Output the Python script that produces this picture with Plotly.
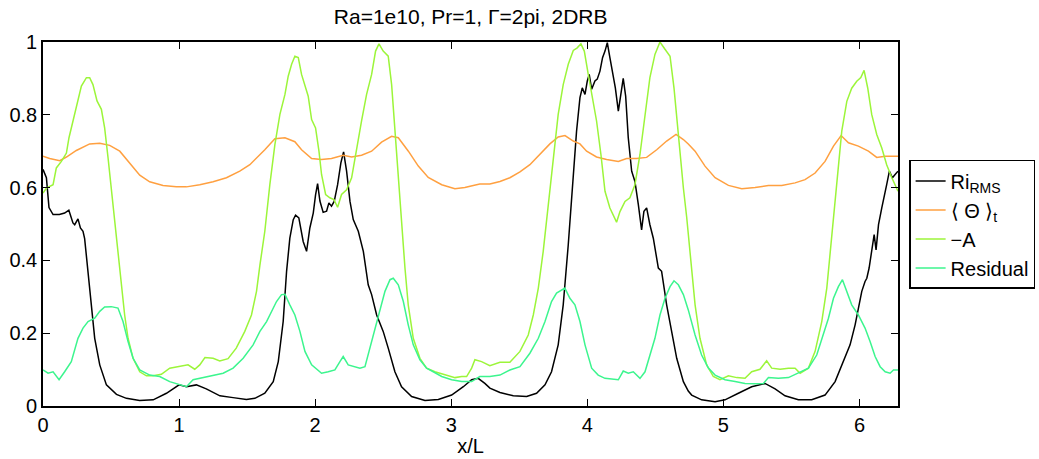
import plotly.graph_objects as go

# ---- data ----
ri_x = [0.0, 0.005, 0.025, 0.044, 0.074, 0.12, 0.159, 0.19, 0.22, 0.233, 0.257, 0.275, 0.294, 0.306, 0.331, 0.355,
        0.38, 0.417, 0.466, 0.54, 0.613, 0.71, 0.81, 0.907, 1.0, 1.054, 1.127, 1.2, 1.3, 1.397, 1.495, 1.557,
        1.63, 1.692, 1.729, 1.765, 1.79, 1.814, 1.839, 1.856, 1.88, 1.912, 1.937, 1.961, 1.986, 2.003, 2.018,
        2.035, 2.059, 2.084, 2.101, 2.12, 2.14, 2.165, 2.189, 2.209, 2.231, 2.256, 2.28, 2.317, 2.354, 2.39,
        2.415, 2.452, 2.5, 2.537, 2.586, 2.635, 2.709, 2.807, 2.905, 3.003, 3.089, 3.15, 3.198, 3.247, 3.284,
        3.358, 3.456, 3.554, 3.627, 3.689, 3.737, 3.786, 3.823, 3.86, 3.897, 3.921, 3.946, 3.963, 3.983, 4.0,
        4.014, 4.032, 4.056, 4.073, 4.093, 4.112, 4.13, 4.147, 4.166, 4.186, 4.206, 4.228, 4.245, 4.264, 4.282,
        4.301, 4.326, 4.35, 4.375, 4.399, 4.416, 4.436, 4.46, 4.485, 4.522, 4.546, 4.583, 4.62, 4.657, 4.706,
        4.742, 4.767, 4.84, 4.939, 5.012, 5.11, 5.208, 5.306, 5.38, 5.453, 5.551, 5.649, 5.747, 5.821, 5.882,
        5.931, 5.968, 5.992, 6.017, 6.041, 6.054, 6.071, 6.09, 6.108, 6.122, 6.14, 6.164, 6.181, 6.2, 6.22,
        6.242, 6.262, 6.283]
ri_y = [0.65, 0.645, 0.627, 0.545, 0.526, 0.526, 0.53, 0.538, 0.503, 0.498, 0.514, 0.489, 0.48, 0.46, 0.37, 0.278,
        0.186, 0.113, 0.058, 0.032, 0.021, 0.015, 0.017, 0.035, 0.058, 0.053, 0.058, 0.047, 0.028, 0.023, 0.018, 0.021,
        0.035, 0.067, 0.122, 0.232, 0.37, 0.461, 0.512, 0.524, 0.517, 0.452, 0.425, 0.489, 0.53, 0.58, 0.611,
        0.563, 0.532, 0.535, 0.558, 0.549, 0.562, 0.608, 0.668, 0.698, 0.645, 0.562, 0.512, 0.48, 0.425, 0.333,
        0.306, 0.25, 0.205, 0.159, 0.094, 0.053, 0.026, 0.015, 0.018, 0.03, 0.053, 0.072, 0.076, 0.062, 0.049,
        0.037, 0.028, 0.026, 0.035, 0.058, 0.094, 0.168, 0.278, 0.443, 0.627, 0.755, 0.847, 0.874, 0.856, 0.893,
        0.911, 0.87, 0.893, 0.898, 0.92, 0.957, 0.975, 0.998, 0.957, 0.911, 0.874, 0.81, 0.847, 0.9, 0.851,
        0.737, 0.645, 0.617, 0.553, 0.484, 0.535, 0.544, 0.498, 0.461, 0.379, 0.37, 0.278, 0.205, 0.131, 0.067,
        0.041, 0.03, 0.017, 0.012, 0.017, 0.035, 0.053, 0.062, 0.047, 0.028, 0.017, 0.017, 0.03, 0.067, 0.122,
        0.168, 0.223, 0.268, 0.315, 0.342, 0.351, 0.379, 0.425, 0.471, 0.429, 0.498, 0.544, 0.571, 0.608, 0.645,
        0.627, 0.636, 0.645]

theta_x = [0.0, 0.049, 0.123, 0.172, 0.245, 0.343, 0.417, 0.49, 0.564, 0.637, 0.711, 0.784, 0.882, 0.98, 1.054,
           1.152, 1.25, 1.348, 1.446, 1.52, 1.58, 1.63, 1.704, 1.778, 1.851, 1.9, 1.974, 2.047, 2.12, 2.206,
           2.268, 2.341, 2.415, 2.488, 2.562, 2.611, 2.685, 2.758, 2.831, 2.93, 3.027, 3.1, 3.162, 3.21, 3.284,
           3.358, 3.431, 3.505, 3.578, 3.652, 3.725, 3.786, 3.836, 3.897, 3.946, 3.995, 4.068, 4.142, 4.228,
           4.289, 4.362, 4.436, 4.51, 4.583, 4.652, 4.706, 4.742, 4.792, 4.865, 4.939, 5.037, 5.135, 5.233,
           5.331, 5.429, 5.527, 5.6, 5.674, 5.747, 5.809, 5.865, 5.919, 5.992, 6.066, 6.127, 6.189, 6.283]
theta_y = [0.686, 0.68, 0.674, 0.684, 0.702, 0.72, 0.722, 0.716, 0.7, 0.668, 0.634, 0.616, 0.606, 0.602, 0.602,
           0.608, 0.616, 0.627, 0.645, 0.663, 0.684, 0.704, 0.734, 0.737, 0.726, 0.704, 0.68, 0.677, 0.68, 0.689,
           0.684, 0.689, 0.7, 0.725, 0.741, 0.737, 0.7, 0.659, 0.628, 0.608, 0.597, 0.6, 0.606, 0.61, 0.61,
           0.617, 0.627, 0.643, 0.663, 0.691, 0.72, 0.739, 0.743, 0.728, 0.72, 0.7, 0.684, 0.677, 0.672,
           0.68, 0.68, 0.683, 0.704, 0.728, 0.746, 0.732, 0.72, 0.7, 0.659, 0.627, 0.606, 0.597, 0.6,
           0.606, 0.606, 0.613, 0.622, 0.64, 0.672, 0.714, 0.743, 0.723, 0.714, 0.7, 0.683, 0.686, 0.686]

a_x = [0.0, 0.025, 0.074, 0.098, 0.135, 0.172, 0.191, 0.221, 0.245, 0.282, 0.319, 0.343, 0.367, 0.397, 0.429,
       0.453, 0.478, 0.502, 0.527, 0.551, 0.576, 0.6, 0.625, 0.662, 0.711, 0.76, 0.809, 0.87, 0.931, 1.005,
       1.066, 1.115, 1.152, 1.19, 1.25, 1.299, 1.36, 1.42, 1.483, 1.532, 1.569, 1.594, 1.63, 1.667, 1.704,
       1.741, 1.778, 1.802, 1.827, 1.851, 1.876, 1.9, 1.925, 1.949, 1.974, 2.003, 2.028, 2.047, 2.077, 2.108,
       2.138, 2.165, 2.194, 2.231, 2.268, 2.305, 2.341, 2.378, 2.415, 2.444, 2.469, 2.5, 2.537, 2.562, 2.586,
       2.611, 2.635, 2.66, 2.684, 2.721, 2.77, 2.819, 2.88, 2.954, 3.028, 3.077, 3.113, 3.15, 3.174, 3.223,
       3.284, 3.358, 3.431, 3.505, 3.566, 3.603, 3.64, 3.676, 3.713, 3.75, 3.786, 3.823, 3.86, 3.897, 3.926,
       3.953, 3.978, 4.007, 4.032, 4.068, 4.1, 4.13, 4.166, 4.198, 4.215, 4.24, 4.277, 4.313, 4.35, 4.387,
       4.424, 4.46, 4.497, 4.534, 4.571, 4.608, 4.637, 4.669, 4.706, 4.730, 4.755, 4.792, 4.828, 4.877, 4.926,
       4.975, 5.037, 5.098, 5.159, 5.208, 5.269, 5.318, 5.355, 5.417, 5.478, 5.527, 5.564, 5.625, 5.674,
       5.723, 5.76, 5.796, 5.833, 5.87, 5.907, 5.943, 5.98, 6.01, 6.034, 6.061, 6.09, 6.127, 6.164, 6.2,
       6.238, 6.283]
a_y = [0.585, 0.599, 0.608, 0.654, 0.672, 0.695, 0.737, 0.783, 0.828, 0.879, 0.902, 0.902, 0.883, 0.838, 0.815,
       0.764, 0.682, 0.599, 0.517, 0.425, 0.333, 0.25, 0.186, 0.131, 0.094, 0.083, 0.083, 0.087, 0.104, 0.11,
       0.113, 0.101, 0.113, 0.133, 0.131, 0.124, 0.13, 0.159, 0.205, 0.25, 0.315, 0.387, 0.48, 0.608, 0.718,
       0.801, 0.856, 0.906, 0.939, 0.961, 0.957, 0.911, 0.883, 0.851, 0.787, 0.764, 0.7, 0.636, 0.581, 0.572,
       0.567, 0.546, 0.581, 0.594, 0.627, 0.709, 0.783, 0.856, 0.911, 0.975, 0.995, 0.975, 0.961, 0.883, 0.755,
       0.627, 0.498, 0.379, 0.278, 0.186, 0.131, 0.104, 0.094, 0.085, 0.078, 0.081, 0.081, 0.104, 0.127, 0.122,
       0.111, 0.12, 0.12, 0.15, 0.195, 0.25, 0.324, 0.425, 0.553, 0.691, 0.801, 0.883, 0.939, 0.977, 0.984,
       0.995, 0.975, 0.911, 0.856, 0.783, 0.691, 0.59, 0.544, 0.517, 0.505, 0.534, 0.562, 0.572, 0.608, 0.691,
       0.792, 0.902, 0.966, 1.0, 0.98, 0.961, 0.874, 0.737, 0.599, 0.52, 0.416, 0.278, 0.186, 0.113, 0.081,
       0.072, 0.083, 0.078, 0.076, 0.094, 0.101, 0.124, 0.104, 0.101, 0.104, 0.104, 0.09, 0.104, 0.15,
       0.232, 0.324, 0.461, 0.617, 0.755, 0.837, 0.873, 0.892, 0.902, 0.922, 0.873, 0.801, 0.746, 0.709, 0.663,
       0.627, 0.59]

res_x = [0.0, 0.037, 0.074, 0.118, 0.159, 0.208, 0.257, 0.294, 0.331, 0.38, 0.417, 0.453, 0.502, 0.551, 0.588,
         0.625, 0.662, 0.711, 0.784, 0.858, 0.931, 1.005, 1.054, 1.103, 1.176, 1.25, 1.324, 1.397, 1.471, 1.544,
         1.594, 1.643, 1.68, 1.716, 1.753, 1.778, 1.814, 1.851, 1.888, 1.925, 1.974, 2.023, 2.047, 2.096, 2.145,
         2.182, 2.206, 2.243, 2.292, 2.329, 2.366, 2.403, 2.44, 2.476, 2.513, 2.55, 2.574, 2.611, 2.648, 2.684,
         2.721, 2.77, 2.819, 2.868, 2.93, 3.003, 3.077, 3.15, 3.21, 3.284, 3.358, 3.431, 3.505, 3.578, 3.64,
         3.689, 3.737, 3.774, 3.811, 3.835, 3.872, 3.909, 3.946, 3.983, 4.032, 4.08, 4.13, 4.179, 4.228, 4.264,
         4.301, 4.338, 4.387, 4.424, 4.46, 4.497, 4.534, 4.571, 4.608, 4.637, 4.669, 4.706, 4.742, 4.792, 4.84,
         4.89, 4.939, 5.012, 5.086, 5.159, 5.233, 5.294, 5.331, 5.404, 5.478, 5.551, 5.625, 5.686, 5.735, 5.772,
         5.809, 5.845, 5.875, 5.907, 5.943, 5.992, 6.041, 6.078, 6.115, 6.152, 6.189, 6.225, 6.25, 6.283]
res_y = [0.099, 0.09, 0.094, 0.072, 0.094, 0.122, 0.186, 0.214, 0.232, 0.241, 0.26, 0.272, 0.273, 0.269, 0.232,
         0.177, 0.131, 0.099, 0.085, 0.081, 0.067, 0.058, 0.053, 0.072, 0.078, 0.083, 0.09, 0.104, 0.131, 0.168,
         0.205, 0.232, 0.26, 0.287, 0.306, 0.307, 0.278, 0.25, 0.205, 0.15, 0.113, 0.099, 0.09, 0.094, 0.099,
         0.122, 0.136, 0.113, 0.108, 0.104, 0.108, 0.159, 0.214, 0.26, 0.315, 0.347, 0.351, 0.333, 0.287, 0.223,
         0.168, 0.127, 0.104, 0.094, 0.081, 0.072, 0.067, 0.067, 0.081, 0.081, 0.085, 0.099, 0.108, 0.145, 0.186,
         0.232, 0.287, 0.31, 0.319, 0.324, 0.296, 0.278, 0.232, 0.168, 0.104, 0.085, 0.076, 0.074, 0.072, 0.096,
         0.09, 0.094, 0.076, 0.094, 0.14, 0.186, 0.25, 0.296, 0.328, 0.344, 0.333, 0.306, 0.264, 0.195, 0.14,
         0.104, 0.085, 0.072, 0.067, 0.062, 0.061, 0.062, 0.078, 0.076, 0.078, 0.09, 0.104, 0.14, 0.195, 0.241,
         0.296, 0.328, 0.347, 0.315, 0.278, 0.25, 0.214, 0.177, 0.136, 0.108, 0.094, 0.09, 0.099, 0.099]

names = ["Ri<sub>RMS</sub>", "\u27e8 \u0398 \u27e9<sub>t</sub>", "\u2212A", "Residual"]
colors = ["#000000", "#FFA040", "#9CF53A", "#3CF58E"]
x_ticks = [0, 1, 2, 3, 4, 5, 6]
y_ticks = [0, 0.2, 0.4, 0.6, 0.8, 1]

FONT = "Liberation Sans, Arial, Helvetica, sans-serif"

fig = go.Figure()
for xs, ys, nm, c in zip([ri_x, theta_x, a_x, res_x], [ri_y, theta_y, a_y, res_y], names, colors):
    fig.add_trace(go.Scatter(x=xs, y=ys, mode="lines", name=nm,
                             line=dict(color=c, width=1.5), line_shape="linear"))

axis_common = dict(showline=True, linecolor="black", linewidth=1.6, mirror="ticks",
                   ticks="inside", ticklen=7, tickwidth=1, tickcolor="black",
                   showgrid=False, zeroline=False, automargin=False,
                   tickfont=dict(family=FONT, size=20, color="black"))

fig.update_layout(
    width=1039, height=459,
    margin=dict(l=43, r=141, t=42, b=53, autoexpand=False),
    plot_bgcolor="white", paper_bgcolor="white",
    title=dict(text="Ra=1e10, Pr=1, \u0393=2pi, 2DRB", x=0.453, xanchor="center",
               y=0.963, yanchor="middle", yref="container",
               font=dict(family=FONT, size=21, color="black")),
    xaxis=dict(range=[0, 6.2832], tickvals=x_ticks,
               title=dict(text="x/L", standoff=4, font=dict(family=FONT, size=20, color="black")),
               **axis_common),
    yaxis=dict(range=[0, 1], tickvals=y_ticks, ticklabelstandoff=0, **axis_common),
    legend=dict(x=1.013, xanchor="left", y=0.676, yanchor="top",
                bgcolor="white", bordercolor="black", borderwidth=1.5,
                font=dict(family=FONT, size=20, color="black"),
                itemwidth=30, tracegroupgap=0),
    showlegend=True,
)

post = ("document.body.style.margin='0px';"
        "var gd=document.getElementById('{plot_id}');"
        "Plotly.relayout(gd,{width:1039,height:459});")
fig.write_html("out.html", post_script=post, config={"displayModeBar": False})
